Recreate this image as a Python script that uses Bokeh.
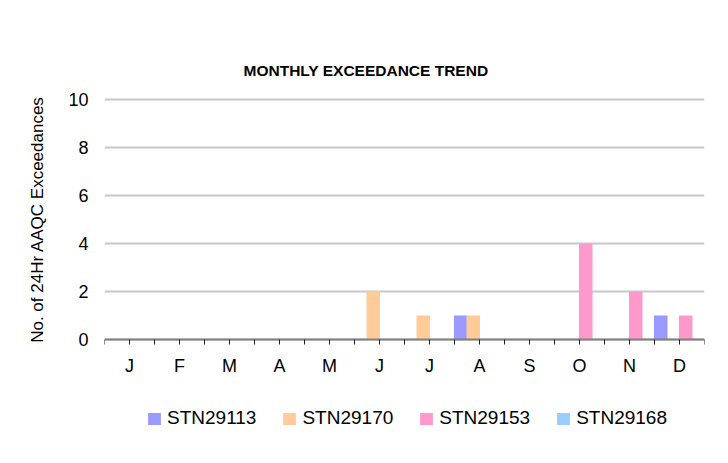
from bokeh.plotting import figure
from bokeh.models import FixedTicker, Range1d, Legend, LegendItem, ColumnDataSource, Label
from bokeh.embed import file_html
from bokeh.resources import INLINE

months = ["J", "F", "M", "A", "M", "J", "J", "A", "S", "O", "N", "D"]
stations = ["STN29113", "STN29170", "STN29153", "STN29168"]
stn29113 = [0, 0, 0, 0, 0, 0, 0, 1, 0, 0, 0, 1]
stn29170 = [0, 0, 0, 0, 0, 2, 1, 1, 0, 0, 0, 0]
stn29153 = [0, 0, 0, 0, 0, 0, 0, 0, 0, 4, 2, 1]
stn29168 = [0, 0, 0, 0, 0, 0, 0, 0, 0, 0, 0, 0]
series = [stn29113, stn29170, stn29153, stn29168]
colors = ["#9999ff", "#ffcc99", "#ff99cc", "#99ccff"]
offsets = [-0.375, -0.125, 0.125, 0.375]
y_ticks = [0, 2, 4, 6, 8, 10]
title_text = "MONTHLY EXCEEDANCE TREND"
y_label = "No. of 24Hr AAQC Exceedances"

FONT = "Liberation Sans"

# frame spans page y 1..437 (24 px per unit, 0 at y=339), x 104..704 (50 px per month)
p = figure(width=728, height=463, output_backend="svg", toolbar_location=None,
           x_range=Range1d(0, 12), y_range=Range1d(-98 / 24, 10 + 98 / 24))
p.min_border_left = 104
p.min_border_right = 24
p.min_border_top = 1
p.min_border_bottom = 26
p.background_fill_color = "white"
p.border_fill_color = "white"
p.outline_line_color = None

items = []
for vals, col, off, name in zip(series, colors, offsets, stations):
    src = ColumnDataSource(dict(x=[i + 0.5 + off for i in range(12)], top=vals))
    r = p.vbar(x="x", top="top", width=0.27, bottom=0, source=src,
               fill_color=col, line_color=None)
    items.append(LegendItem(label=name, renderers=[r]))

# x axis drawn at y = 0
xt = [i * 0.5 for i in range(25)]
p.xaxis.ticker = FixedTicker(ticks=xt)
p.xaxis.fixed_location = 0
overrides = {}
for t in xt:
    if abs(t - int(t) - 0.5) < 1e-9:
        overrides[t] = months[int(t)]
    else:
        overrides[t] = ""
p.xaxis.major_label_overrides = overrides
p.xaxis.axis_line_color = "#808080"
p.xaxis.axis_line_width = 2
p.xaxis.major_tick_line_color = "#202020"
p.xaxis.major_tick_out = 5
p.xaxis.major_tick_in = 0
p.xaxis.minor_tick_line_color = None
p.xaxis.major_label_text_font = FONT
p.xaxis.major_label_text_font_size = "18px"
p.xaxis.major_label_text_color = "black"
p.xaxis.major_label_standoff = 11
p.xgrid.grid_line_color = None

# y axis
p.yaxis.ticker = FixedTicker(ticks=y_ticks)
p.yaxis.axis_line_color = None
p.yaxis.major_tick_line_color = None
p.yaxis.major_tick_out = 0
p.yaxis.major_tick_in = 0
p.yaxis.minor_tick_line_color = None
p.yaxis.major_label_text_font = FONT
p.yaxis.major_label_text_font_size = "18px"
p.yaxis.major_label_text_color = "black"
p.yaxis.major_label_standoff = 16
p.yaxis.axis_label = y_label
p.yaxis.axis_label_text_font = FONT
p.yaxis.axis_label_text_font_size = "17px"
p.yaxis.axis_label_text_font_style = "normal"
p.yaxis.axis_label_text_color = "black"
p.yaxis.axis_label_standoff = 18
p.ygrid.grid_line_color = "#c8c8c8"
p.ygrid.grid_line_width = 2

# title
title = Label(x=2.78, y=10 + 29 / 24, text=title_text, text_font=FONT,
              text_font_size="15.5px", text_font_style="bold", text_color="black",
              text_align="left", text_baseline="middle")
p.add_layout(title)

legend = Legend(items=items, orientation="horizontal", location=(42, 8),
                glyph_width=16, glyph_height=15, label_standoff=5, spacing=25,
                padding=0, margin=0, border_line_color=None,
                background_fill_alpha=0, label_text_font=FONT,
                label_text_font_size="19px", label_text_color="black")
p.add_layout(legend, "center")

open("out.html", "w").write(file_html(p, INLINE))
